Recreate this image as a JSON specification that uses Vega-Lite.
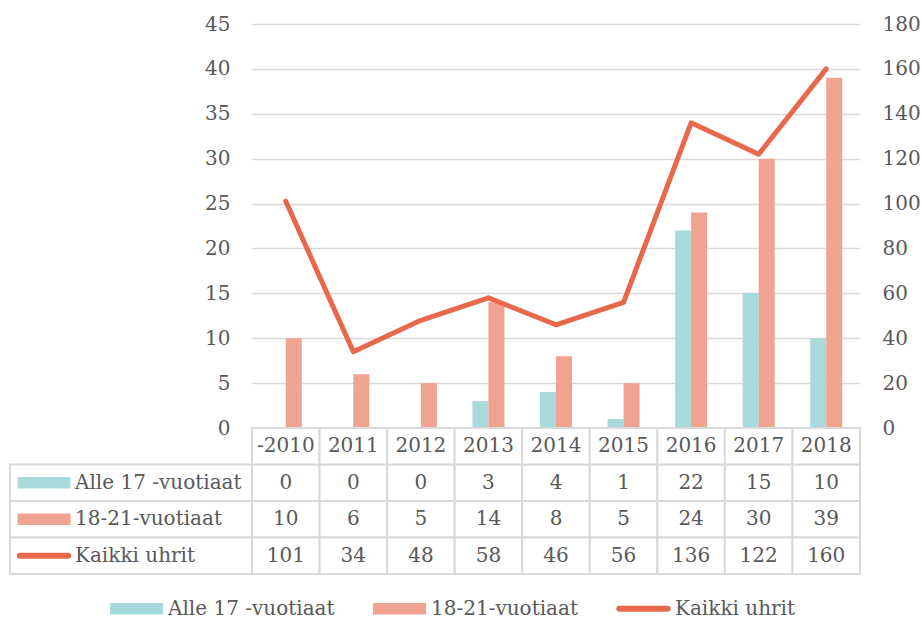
{
  "$schema": "https://vega.github.io/schema/vega-lite/v6.json",
  "background": "white",
  "padding": {"left": 9, "top": 14, "right": 5, "bottom": 5},
  "datasets": {
    "d": [
      {"year": "-2010", "series": "Alle 17 -vuotiaat", "value": 0},
      {"year": "2011", "series": "Alle 17 -vuotiaat", "value": 0},
      {"year": "2012", "series": "Alle 17 -vuotiaat", "value": 0},
      {"year": "2013", "series": "Alle 17 -vuotiaat", "value": 3},
      {"year": "2014", "series": "Alle 17 -vuotiaat", "value": 4},
      {"year": "2015", "series": "Alle 17 -vuotiaat", "value": 1},
      {"year": "2016", "series": "Alle 17 -vuotiaat", "value": 22},
      {"year": "2017", "series": "Alle 17 -vuotiaat", "value": 15},
      {"year": "2018", "series": "Alle 17 -vuotiaat", "value": 10},
      {"year": "-2010", "series": "18-21-vuotiaat", "value": 10},
      {"year": "2011", "series": "18-21-vuotiaat", "value": 6},
      {"year": "2012", "series": "18-21-vuotiaat", "value": 5},
      {"year": "2013", "series": "18-21-vuotiaat", "value": 14},
      {"year": "2014", "series": "18-21-vuotiaat", "value": 8},
      {"year": "2015", "series": "18-21-vuotiaat", "value": 5},
      {"year": "2016", "series": "18-21-vuotiaat", "value": 24},
      {"year": "2017", "series": "18-21-vuotiaat", "value": 30},
      {"year": "2018", "series": "18-21-vuotiaat", "value": 39},
      {"year": "-2010", "series": "Kaikki uhrit", "value": 101},
      {"year": "2011", "series": "Kaikki uhrit", "value": 34},
      {"year": "2012", "series": "Kaikki uhrit", "value": 48},
      {"year": "2013", "series": "Kaikki uhrit", "value": 58},
      {"year": "2014", "series": "Kaikki uhrit", "value": 46},
      {"year": "2015", "series": "Kaikki uhrit", "value": 56},
      {"year": "2016", "series": "Kaikki uhrit", "value": 136},
      {"year": "2017", "series": "Kaikki uhrit", "value": 122},
      {"year": "2018", "series": "Kaikki uhrit", "value": 160}
    ]
  },
  "columns": 2,
  "spacing": 0,
  "bounds": "flush",
  "resolve": {
    "scale": {"x": "independent", "y": "independent", "color": "independent", "shape": "independent"},
    "legend": {"color": "independent", "shape": "independent"}
  },
  "concat": [
    {
      "width": 242,
      "height": 404,
      "data": {"values": []},
      "mark": {"type": "point", "opacity": 0}
    },
    {
      "width": 608,
      "height": 404,
      "data": {"name": "d"},
      "encoding": {
        "x": {
          "field": "year",
          "type": "nominal",
          "axis": null,
          "scale": {
            "domain": ["-2010", "2011", "2012", "2013", "2014", "2015", "2016", "2017", "2018"],
            "paddingInner": 0.526,
            "paddingOuter": 0.263
          }
        }
      },
      "layer": [
        {
          "transform": [{"filter": "datum.series != 'Kaikki uhrit'"}],
          "mark": {"type": "bar"},
          "encoding": {
            "xOffset": {
              "field": "series",
              "type": "nominal",
              "scale": {"domain": ["Alle 17 -vuotiaat", "18-21-vuotiaat"], "paddingInner": 0, "paddingOuter": 0}
            },
            "y": {
              "field": "value",
              "type": "quantitative",
              "scale": {"domain": [0, 45]},
              "axis": {
                "values": [0, 5, 10, 15, 20, 25, 30, 35, 40, 45],
                "grid": true,
                "gridColor": "#d9d9d9",
                "gridWidth": 1.5,
                "domain": false,
                "ticks": false,
                "labelPadding": 22,
                "title": null
              }
            },
            "color": {
              "field": "series",
              "type": "nominal",
              "scale": {
                "domain": ["Alle 17 -vuotiaat", "18-21-vuotiaat", "Kaikki uhrit"],
                "range": ["#a8dadb", "#f0a391", "#e8684c"]
              },
              "legend": null
            }
          }
        },
        {
          "transform": [{"filter": "datum.series == 'Kaikki uhrit'"}],
          "mark": {"type": "line", "color": "#e8684c", "strokeWidth": 5, "strokeCap": "round", "strokeJoin": "round"},
          "encoding": {
            "y": {
              "field": "value",
              "type": "quantitative",
              "scale": {"domain": [0, 180]},
              "axis": {
                "orient": "right",
                "values": [0, 20, 40, 60, 80, 100, 120, 140, 160, 180],
                "grid": false,
                "domain": false,
                "ticks": false,
                "labelPadding": 22,
                "title": null
              }
            }
          }
        }
      ],
      "resolve": {"scale": {"y": "independent"}}
    },
    {
      "width": 242,
      "height": 146,
      "data": {"name": "d"},
      "transform": [{"filter": "datum.year == '2018'"}],
      "encoding": {
        "y": {
          "field": "series",
          "type": "nominal",
          "axis": null,
          "scale": {
            "domain": [" ", "Alle 17 -vuotiaat", "18-21-vuotiaat", "Kaikki uhrit"],
            "paddingInner": 0,
            "paddingOuter": 0
          }
        }
      },
      "layer": [
        {"mark": {"type": "rect", "fill": "white", "stroke": "#d9d9d9", "strokeWidth": 2}},
        {
          "mark": {"type": "text", "align": "left", "baseline": "middle", "xOffset": -56},
          "encoding": {"text": {"field": "series", "type": "nominal"}}
        },
        {
          "mark": {"type": "point", "filled": true, "opacity": 1, "size": 2800, "xOffset": -87},
          "encoding": {
            "color": {
              "field": "series",
              "type": "nominal",
              "scale": {
                "domain": ["Alle 17 -vuotiaat", "18-21-vuotiaat", "Kaikki uhrit"],
                "range": ["#a8dadb", "#f0a391", "#e8684c"]
              },
              "legend": {"title": null, "orient": "none", "legendX": 100, "legendY": 154}
            },
            "shape": {
              "field": "series",
              "type": "nominal",
              "scale": {
                "domain": ["Alle 17 -vuotiaat", "18-21-vuotiaat", "Kaikki uhrit"],
                "range": [
                  "M-1,-0.22H1V0.22H-1Z",
                  "M-1,-0.22H1V0.22H-1Z",
                  "M-0.92,-0.11H0.92A0.11,0.11 0 0 1 0.92,0.11H-0.92A0.11,0.11 0 0 1 -0.92,-0.11Z"
                ]
              },
              "legend": {"title": null, "orient": "none", "legendX": 100, "legendY": 154}
            }
          }
        }
      ]
    },
    {
      "width": 608,
      "height": 146,
      "data": {"name": "d"},
      "encoding": {
        "x": {
          "field": "year",
          "type": "nominal",
          "axis": null,
          "scale": {
            "domain": ["-2010", "2011", "2012", "2013", "2014", "2015", "2016", "2017", "2018"],
            "paddingInner": 0,
            "paddingOuter": 0
          }
        }
      },
      "layer": [
        {
          "mark": {"type": "rect", "fill": "white", "stroke": "#d9d9d9", "strokeWidth": 2},
          "encoding": {
            "y": {
              "field": "series",
              "type": "nominal",
              "axis": null,
              "scale": {
                "domain": [" ", "Alle 17 -vuotiaat", "18-21-vuotiaat", "Kaikki uhrit"],
                "paddingInner": 0,
                "paddingOuter": 0
              }
            }
          }
        },
        {
          "mark": {"type": "text", "align": "center", "baseline": "middle"},
          "encoding": {
            "y": {"field": "series", "type": "nominal"},
            "text": {"field": "value", "type": "quantitative"}
          }
        },
        {
          "transform": [{"filter": "datum.series == 'Kaikki uhrit'"}],
          "mark": {"type": "rect", "fill": "white", "stroke": "#d9d9d9", "strokeWidth": 2},
          "encoding": {"y": {"datum": " ", "type": "nominal"}}
        },
        {
          "transform": [{"filter": "datum.series == 'Kaikki uhrit'"}],
          "mark": {"type": "text", "align": "center", "baseline": "middle"},
          "encoding": {
            "y": {"datum": " ", "type": "nominal"},
            "text": {"field": "year", "type": "nominal"}
          }
        }
      ]
    }
  ],
  "config": {
    "view": {"stroke": null},
    "axis": {"labelFont": "DejaVu Serif", "labelFontSize": 20, "labelColor": "#595959"},
    "text": {"font": "DejaVu Serif", "fontSize": 20, "fill": "#595959"},
    "legend": {
      "direction": "horizontal",
      "labelFont": "DejaVu Serif",
      "labelFontSize": 20,
      "labelColor": "#595959",
      "labelLimit": 0,
      "symbolSize": 2800,
      "symbolStrokeWidth": 0,
      "labelOffset": 5,
      "columnPadding": 38
    }
  }
}
